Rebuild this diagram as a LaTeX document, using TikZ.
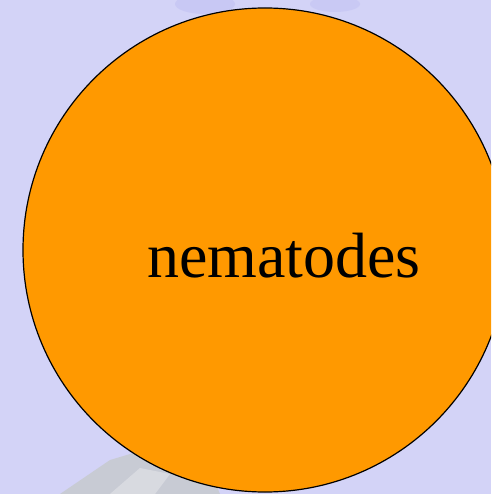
\documentclass[tikz,border=0pt]{standalone}
\usepackage{fontspec}
\setmainfont{Liberation Serif}
\definecolor{bgl}{HTML}{D3D3F7}
\definecolor{bgp}{HTML}{B4B4F0}
\definecolor{bgg}{HTML}{B8BFA0}
\definecolor{orng}{HTML}{FF9900}
\tikzset{
  blob/.style={circle, draw=black, line width=1.2pt, fill=orng, minimum size=484pt, inner sep=0pt},
  lbl/.style={font=\fontsize{64}{70}\selectfont, text=black, inner sep=0pt}
}
\begin{document}
\begin{tikzpicture}[x=1pt,y=-1pt]
\path[use as bounding box, fill=bgl] (0,0) rectangle (491,494);
\fill[bgp, opacity=0.35] (205,4) ellipse (30 and 10);
\fill[bgp, opacity=0.3] (335,4) ellipse (25 and 8);
\fill[bgg, opacity=0.4] (60,494) -- (110,460) -- (150,448) -- (210,470) -- (220,494) -- cycle;
\fill[white, opacity=0.3] (110,494) -- (140,468) -- (170,474) -- (155,494) -- cycle;
\begin{scope}
\clip (0,0) rectangle (491,494);
\node[blob] (c) at (265,250) {};
\end{scope}
\node[lbl] (t) at (284,256) {nematodes};
\end{tikzpicture}
\end{document}
